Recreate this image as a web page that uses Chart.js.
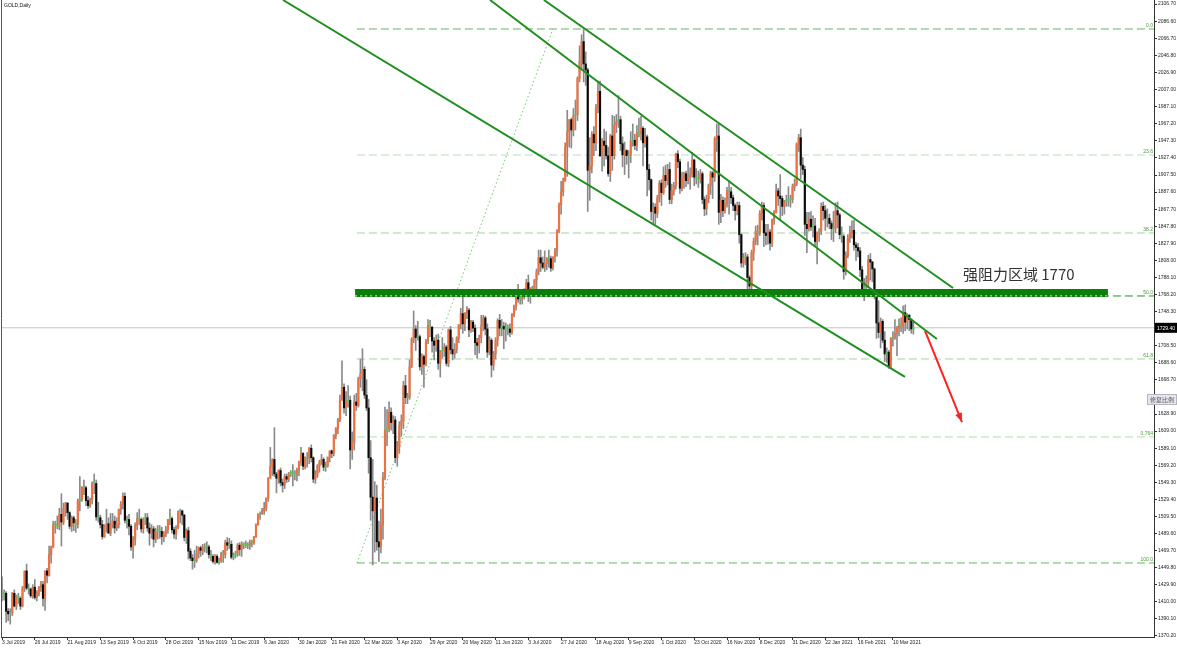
<!DOCTYPE html>
<html><head><meta charset="utf-8">
<script src="https://cdn.jsdelivr.net/npm/chart.js@4.4.1/dist/chart.umd.min.js"></script>
<style>html,body{margin:0;padding:0;background:#fff;overflow:hidden}</style>
</head><body>
<canvas id="c" width="1177" height="648"></canvas>
<script>
// ---- GOLD Daily, 3 Jul 2019 .. 24 Mar 2021 ----
const opens=[
1419,1419,1420,1399,1396,1397,1420,1405,1416,1414,
1405,1426,1446,1426,1425,1417,1427,1415,1420,1427,
1430,1414,1446,1441,1465,1474,1500,1500,1498,1512,
1503,1518,1525,1514,1498,1508,1502,1500,1528,1529,
1544,1543,1528,1522,1529,1548,1548,1509,1508,1500,
1486,1498,1501,1490,1500,1504,1496,1500,1518,1524,
1533,1505,1506,1498,1474,1482,1499,1507,1506,1495,
1506,1508,1496,1490,1495,1483,1492,1494,1492,1486,
1489,1494,1506,1507,1494,1489,1497,1515,1516,1511,
1485,1493,1469,1461,1458,1458,1466,1473,1470,1474,
1473,1474,1465,1463,1457,1463,1456,1458,1466,1465,
1479,1476,1477,1462,1464,1466,1476,1471,1477,1478,
1476,1476,1480,1479,1486,1500,1512,1513,1516,1519,
1531,1554,1568,1576,1559,1554,1563,1549,1546,1556,
1553,1559,1561,1560,1558,1564,1573,1583,1568,1577,
1577,1589,1578,1553,1558,1568,1573,1576,1567,1568,
1578,1586,1583,1604,1612,1622,1645,1660,1636,1644,
1645,1587,1596,1643,1639,1670,1676,1681,1651,1636,
1578,1532,1516,1531,1480,1474,1500,1555,1610,1612,
1631,1619,1622,1578,1591,1615,1621,1662,1648,1648,
1684,1716,1728,1718,1719,1684,1696,1687,1714,1732,
1730,1714,1709,1715,1688,1702,1703,1707,1688,1727,
1704,1699,1704,1717,1733,1746,1734,1747,1750,1727,
1736,1729,1712,1709,1718,1732,1741,1728,1701,1715,
1686,1699,1715,1738,1729,1731,1728,1728,1728,1724,
1745,1755,1768,1763,1763,1772,1773,1782,1771,1776,
1774,1785,1795,1811,1805,1800,1804,1811,1810,1799,
1812,1819,1843,1873,1888,1901,1941,1958,1972,1960,
1977,1978,2020,2040,2063,2037,2030,1913,1918,1955,
1945,1986,2005,1930,1947,1942,1930,1909,1953,1930,
1966,1970,1972,1944,1931,1936,1930,1931,1947,1948,
1942,1957,1955,1962,1945,1952,1914,1902,1865,1870,
1863,1881,1898,1887,1907,1901,1914,1879,1889,1895,
1932,1923,1892,1904,1909,1901,1905,1908,1925,1905,
1903,1903,1909,1879,1868,1880,1895,1910,1905,1950,
1953,1864,1878,1866,1874,1889,1888,1881,1872,1866,
1872,1838,1805,1811,1812,1788,1778,1817,1830,1842,
1840,1863,1872,1840,1837,1841,1828,1855,1864,1889,
1883,1880,1871,1876,1878,1879,1879,1894,1897,1943,
1951,1919,1914,1850,1845,1856,1847,1848,1830,1841,
1842,1871,1866,1857,1857,1851,1845,1845,1866,1861,
1838,1836,1795,1814,1834,1840,1843,1826,1823,1819,
1797,1775,1777,1783,1809,1806,1798,1770,1735,1724,
1737,1715,1699,1701,1684,1717,1718,1723,1729,1732,
1731,1747,1736,1744,1739,1728];
const highs=[
1439,1424,1422,1402,1402,1421,1424,1418,1420,1416,
1428,1446,1454,1431,1426,1430,1436,1423,1428,1434,
1434,1446,1449,1475,1475,1504,1504,1510,1519,1536,
1525,1526,1526,1515,1510,1510,1506,1530,1556,1544,
1552,1545,1533,1531,1550,1559,1552,1526,1511,1505,
1500,1518,1508,1513,1513,1510,1508,1518,1527,1537,
1537,1510,1512,1500,1486,1502,1514,1518,1508,1508,
1513,1513,1502,1500,1498,1496,1499,1499,1497,1492,
1498,1506,1518,1509,1497,1499,1516,1518,1517,1512,
1495,1497,1472,1465,1470,1475,1474,1475,1477,1478,
1480,1476,1470,1465,1465,1465,1461,1468,1470,1482,
1485,1484,1481,1467,1469,1478,1479,1480,1479,1481,
1479,1482,1482,1486,1501,1513,1515,1519,1526,1531,
1555,1590,1577,1613,1561,1564,1566,1553,1559,1559,
1561,1563,1570,1563,1566,1574,1590,1584,1579,1584,
1590,1593,1579,1563,1570,1575,1582,1578,1573,1579,
1586,1587,1605,1613,1624,1651,1691,1664,1655,1662,
1650,1608,1651,1653,1672,1693,1705,1684,1669,1646,
1598,1576,1550,1546,1504,1518,1561,1637,1634,1643,
1636,1627,1626,1597,1620,1628,1667,1674,1653,1692,
1718,1749,1732,1737,1721,1699,1698,1716,1739,1738,
1731,1718,1721,1722,1703,1718,1711,1709,1728,1731,
1718,1711,1719,1733,1752,1767,1747,1754,1752,1738,
1738,1733,1717,1721,1744,1744,1743,1734,1719,1717,
1702,1718,1740,1745,1739,1736,1735,1733,1734,1746,
1756,1768,1780,1768,1774,1775,1786,1791,1776,1778,
1786,1798,1820,1820,1812,1819,1811,1820,1813,1812,
1822,1844,1875,1900,1904,1945,1983,1972,1974,1985,
1995,2022,2058,2071,2077,2051,2032,1951,1958,1964,
1990,2017,2017,1950,1961,1958,1940,1955,1977,1976,
1978,2000,1976,1952,1946,1937,1936,1958,1967,1955,
1965,1974,1976,1964,1962,1954,1920,1903,1875,1874,
1884,1901,1902,1917,1919,1920,1922,1897,1899,1933,
1936,1926,1911,1911,1912,1923,1916,1934,1926,1915,
1912,1914,1911,1882,1884,1897,1912,1912,1952,1967,
1967,1885,1882,1881,1893,1901,1893,1884,1874,1876,
1876,1839,1816,1817,1815,1790,1820,1834,1848,1849,
1866,1876,1875,1850,1850,1844,1856,1866,1897,1892,
1908,1883,1878,1884,1894,1884,1897,1903,1945,1955,
1961,1928,1918,1864,1864,1865,1860,1857,1840,1845,
1875,1876,1872,1868,1862,1854,1865,1875,1876,1863,
1847,1838,1818,1838,1848,1854,1855,1829,1828,1823,
1801,1787,1790,1814,1816,1807,1799,1771,1761,1741,
1739,1725,1706,1703,1718,1725,1739,1731,1740,1741,
1755,1756,1746,1745,1740,1738];
const lows=[
1411,1412,1386,1388,1384,1394,1404,1401,1408,1401,
1404,1422,1424,1419,1415,1414,1413,1411,1417,1422,
1405,1400,1432,1440,1455,1473,1490,1495,1494,1475,
1500,1510,1506,1495,1492,1493,1491,1496,1516,1527,
1535,1522,1519,1520,1524,1536,1505,1503,1496,1483,
1485,1491,1490,1487,1496,1490,1493,1496,1512,1518,
1502,1496,1488,1470,1461,1476,1494,1500,1491,1490,
1500,1492,1476,1484,1474,1479,1483,1484,1477,1480,
1486,1490,1500,1490,1484,1483,1495,1502,1500,1481,
1478,1460,1458,1448,1450,1456,1461,1463,1465,1468,
1467,1461,1458,1455,1454,1455,1454,1456,1456,1461,
1470,1472,1460,1459,1461,1463,1464,1463,1472,1473,
1472,1471,1474,1477,1485,1499,1506,1512,1512,1516,
1527,1554,1557,1556,1537,1548,1545,1538,1542,1549,
1550,1556,1545,1552,1551,1557,1569,1564,1565,1567,
1571,1573,1549,1548,1555,1561,1570,1563,1562,1567,
1573,1578,1580,1600,1606,1620,1645,1630,1627,1637,
1565,1576,1587,1633,1637,1660,1656,1647,1633,1560,
1505,1453,1468,1470,1457,1467,1483,1552,1592,1608,
1610,1606,1572,1568,1583,1603,1612,1641,1641,1646,
1683,1712,1703,1715,1680,1675,1660,1685,1711,1719,
1701,1692,1702,1681,1672,1694,1696,1685,1684,1699,
1692,1694,1700,1712,1728,1723,1726,1740,1719,1724,
1725,1698,1694,1700,1712,1726,1721,1695,1698,1672,
1680,1693,1708,1720,1720,1705,1714,1721,1719,1722,
1742,1750,1759,1757,1757,1763,1767,1760,1758,1768,
1767,1775,1791,1795,1798,1795,1797,1800,1795,1797,
1806,1813,1840,1862,1883,1900,1906,1940,1939,1953,
1960,1971,2016,2031,2016,2012,1865,1878,1910,1930,
1936,1980,1929,1912,1918,1926,1906,1900,1913,1926,
1957,1963,1936,1917,1908,1920,1904,1922,1941,1937,
1936,1952,1948,1918,1940,1883,1890,1855,1850,1850,
1858,1876,1872,1885,1893,1896,1874,1874,1884,1891,
1916,1886,1889,1892,1894,1897,1891,1905,1895,1897,
1893,1898,1874,1860,1861,1875,1885,1880,1900,1935,
1850,1852,1859,1863,1870,1862,1874,1866,1855,1861,
1828,1800,1800,1803,1775,1768,1775,1808,1826,1826,
1837,1855,1824,1826,1827,1820,1824,1850,1863,1872,
1855,1860,1862,1871,1871,1870,1875,1889,1895,1935,
1903,1908,1837,1817,1842,1843,1835,1825,1804,1830,
1838,1855,1843,1847,1845,1832,1830,1840,1846,1833,
1829,1786,1791,1811,1829,1834,1820,1808,1812,1789,
1768,1761,1770,1776,1785,1783,1763,1717,1718,1706,
1712,1690,1689,1682,1683,1708,1716,1697,1720,1725,
1723,1726,1728,1726,1723,1722];
const closes=[
1419,1420,1399,1396,1397,1420,1405,1416,1414,1405,
1426,1446,1426,1425,1417,1427,1415,1420,1427,1430,
1414,1446,1441,1465,1474,1500,1500,1498,1512,1503,
1518,1525,1514,1498,1508,1502,1500,1528,1529,1544,
1543,1528,1522,1529,1548,1548,1509,1508,1500,1486,
1498,1501,1490,1500,1504,1496,1500,1518,1524,1533,
1505,1506,1498,1474,1482,1499,1507,1506,1495,1506,
1508,1496,1490,1495,1483,1492,1494,1492,1486,1489,
1494,1506,1507,1494,1489,1497,1515,1516,1511,1485,
1493,1469,1461,1458,1458,1466,1473,1470,1474,1473,
1474,1465,1463,1457,1463,1456,1458,1466,1465,1479,
1476,1477,1462,1464,1466,1476,1471,1477,1478,1476,
1476,1480,1479,1486,1500,1512,1513,1516,1519,1531,
1554,1568,1576,1559,1554,1563,1549,1546,1556,1553,
1559,1561,1560,1558,1564,1573,1583,1568,1577,1577,
1589,1578,1553,1558,1568,1573,1576,1567,1568,1578,
1586,1583,1604,1612,1622,1645,1660,1636,1644,1645,
1587,1596,1643,1639,1670,1676,1681,1651,1636,1578,
1532,1516,1531,1480,1474,1500,1555,1610,1612,1631,
1619,1622,1578,1591,1615,1621,1662,1648,1648,1684,
1716,1728,1718,1719,1684,1696,1687,1714,1732,1730,
1714,1709,1715,1688,1702,1703,1707,1688,1727,1704,
1699,1704,1717,1733,1746,1734,1747,1750,1727,1736,
1729,1712,1709,1718,1732,1741,1728,1701,1715,1686,
1699,1715,1738,1729,1731,1728,1728,1728,1724,1745,
1755,1768,1763,1763,1772,1773,1782,1771,1776,1774,
1785,1795,1811,1805,1800,1804,1811,1810,1799,1812,
1819,1843,1873,1888,1901,1941,1958,1972,1960,1977,
1978,2020,2040,2063,2037,2030,1913,1918,1955,1945,
1986,2005,1930,1947,1942,1930,1909,1953,1930,1966,
1970,1972,1944,1931,1936,1930,1931,1947,1948,1942,
1957,1955,1962,1945,1952,1914,1902,1865,1870,1863,
1881,1898,1887,1907,1901,1914,1879,1889,1895,1932,
1923,1892,1904,1909,1901,1905,1908,1925,1905,1903,
1903,1909,1879,1868,1880,1895,1910,1905,1950,1953,
1864,1878,1866,1874,1889,1888,1881,1872,1866,1872,
1838,1805,1811,1812,1788,1778,1817,1830,1842,1840,
1863,1872,1840,1837,1841,1828,1855,1864,1889,1883,
1880,1871,1876,1878,1879,1879,1894,1897,1943,1951,
1919,1914,1850,1845,1856,1847,1848,1830,1841,1842,
1871,1866,1857,1857,1851,1845,1845,1866,1861,1838,
1836,1795,1814,1834,1840,1843,1826,1823,1819,1797,
1775,1777,1783,1809,1806,1798,1770,1735,1724,1737,
1715,1699,1701,1684,1717,1718,1723,1729,1732,1731,
1747,1736,1744,1739,1728,1729.4];

// x-axis date labels and the bar index each one sits on
const dateLabels=['3 Jul 2019','26 Jul 2019','21 Aug 2019','13 Sep 2019','4 Oct 2019','28 Oct 2019','15 Nov 2019','11 Dec 2019','6 Jan 2020','30 Jan 2020','21 Feb 2020','12 Mar 2020','3 Apr 2020','29 Apr 2020','20 May 2020','11 Jun 2020','3 Jul 2020','27 Jul 2020','18 Aug 2020','9 Sep 2020','1 Oct 2020','23 Oct 2020','16 Nov 2020','8 Dec 2020','31 Dec 2020','22 Jan 2021','16 Feb 2021','10 Mar 2021'];
const dateIdx=[0,16,32,48,64,80,96,112,128,145,161,177,193,209,225,241,257,273,290,306,322,338,354,370,386,402,418,435];

// price-axis tick labels
const yTicks=[1370.20,1390.10,1410.00,1429.90,1449.80,1469.70,1489.60,1509.50,1529.40,1549.30,1569.20,1589.10,1609.00,1628.90,1648.80,1668.70,1688.60,1708.50,1728.40,1748.30,1768.20,1788.10,1808.00,1827.90,1847.80,1867.70,1887.60,1907.50,1927.40,1947.30,1967.20,1987.10,2007.00,2026.90,2046.80,2066.70,2086.60,2106.70];

// Fibonacci retracement (anchor low/high, level labels)
const fibLabels=['0.0','23.6','38.2','50.0','61.8','0.764','100.0'];
const fibRatios=[0,0.236,0.382,0.5,0.618,0.764,1];
const fibAnchor=[173.3,1455.3,269.0,2077.7]; // idx/price of low, idx/price of high

// drawn objects in chart coordinates (bar index, price)
const channelA=[137.2,2111.5,440.9,1672.1];
const channelB=[238.3,2111.5,456.5,1716.4];
const channelC=[264.6,2111.5,464.4,1775.8];
const zoneLine=[172.4,540.0,1770.0];
const zoneLabel='强阻力区域 1770';
const zoneLabelPos=[469.2,1792.1];
const arrowLine=[450.7,1725.7,468.75,1619.6];

const xMin=-0.5,xMax=562.5,yMin=1369.0,yMax=2111.5;
const N=closes.length;
const last=closes[N-1];

const wickData=lows.map((l,i)=>({x:i,y:[Math.min(l,opens[i],closes[i]),Math.max(highs[i],opens[i],closes[i])]}));
const bodyData=opens.map((o,i)=>({x:i,y:[Math.min(o,closes[i]),Math.max(o,closes[i])]}));
const bodyColors=opens.map((o,i)=>Math.abs(closes[i]-o)<=2?'#4fcf4f':(closes[i]>o?'#f0703f':'#0a0a0a'));

const seg=(a)=>[{x:a[0],y:a[1]},{x:a[2],y:a[3]}];
const lineDs=(data,color,width,dash,order)=>({type:'line',data,borderColor:color,borderWidth:width,borderDash:dash||[],pointRadius:0,pointHoverRadius:0,fill:false,tension:0,order,borderCapStyle:'butt'});

const fibHigh=fibAnchor[3],fibLow=fibAnchor[1];
const fibPrice=r=>fibHigh-r*(fibHigh-fibLow);
const fibColors=['#62b862','#b9ddb9','#a3d2a3','#1e961e','#a3d2a3','#b0dab0','#62b862'];

const datasets=[];
datasets.push(lineDs(seg([xMin,last,xMax,last]),'#c4c4c4',1,[],40));
fibRatios.forEach((r,k)=>datasets.push(lineDs(seg([fibAnchor[0],fibPrice(r),xMax,fibPrice(r)]),fibColors[k],1,[8,4],35)));
datasets.push(lineDs(seg(fibAnchor),'#6cc86c',1,[1.5,2.5],34));
datasets.push({type:'bar',data:wickData,backgroundColor:'#8a8a8a',barThickness:1,grouped:false,order:30,borderWidth:0});
datasets.push({type:'bar',data:bodyData,backgroundColor:bodyColors,barThickness:1.5,grouped:false,order:29,borderWidth:0,minBarLength:1});
datasets.push(lineDs(seg([zoneLine[0],zoneLine[2],zoneLine[1],zoneLine[2]]),'#0a7f0a',8,[],6));
datasets.push(lineDs(seg([zoneLine[0],zoneLine[2]-3.4,zoneLine[1],zoneLine[2]-3.4]),'rgba(255,255,255,0.9)',1,[2,3],5));
[channelA,channelB,channelC].forEach(c=>datasets.push(lineDs(seg(c),'#1f8f1f',2,[],4)));
datasets.push(lineDs(seg(arrowLine),'#ff2020',2,[],3));

const overlay={id:'overlay',afterDraw(chart){
  const {ctx,chartArea:a,scales:{x,y}}=chart;
  ctx.save();
  // left frame line
  ctx.strokeStyle='#555';ctx.lineWidth=1;
  ctx.beginPath();ctx.moveTo(1.5,0);ctx.lineTo(1.5,a.bottom);ctx.stroke();
  // title
  ctx.font='5px "Liberation Sans"';ctx.fillStyle='#111';ctx.textAlign='left';ctx.textBaseline='alphabetic';
  ctx.fillText('GOLD,Daily',4,7);
  // fib level labels
  ctx.textAlign='right';ctx.textBaseline='bottom';ctx.fillStyle='#4a9a35';
  fibRatios.forEach((r,k)=>{ctx.fillText(fibLabels[k],a.right-1,y.getPixelForValue(fibPrice(r))-0.5);});
  // zone label
  ctx.font='15px "Noto Sans CJK SC"';ctx.fillStyle='#333';ctx.textAlign='left';ctx.textBaseline='middle';
  ctx.fillText(zoneLabel,x.getPixelForValue(zoneLabelPos[0]),y.getPixelForValue(zoneLabelPos[1]));
  // arrow head
  const x1=x.getPixelForValue(arrowLine[0]),y1=y.getPixelForValue(arrowLine[1]);
  const x2=x.getPixelForValue(arrowLine[2]),y2=y.getPixelForValue(arrowLine[3]);
  const ang=Math.atan2(y2-y1,x2-x1),L=9,W=3.5;
  const bx=x2-L*Math.cos(ang),by=y2-L*Math.sin(ang);
  ctx.fillStyle='#ff2020';ctx.beginPath();ctx.moveTo(x2,y2);
  ctx.lineTo(bx-W*Math.sin(ang),by+W*Math.cos(ang));
  ctx.lineTo(bx+W*Math.sin(ang),by-W*Math.cos(ang));ctx.closePath();ctx.fill();
  // current price tag
  const py=y.getPixelForValue(last);
  ctx.fillStyle='#000';ctx.fillRect(a.right+1,py-5,1177-a.right-1,10);
  ctx.font='5px "Liberation Sans"';ctx.fillStyle='#fff';ctx.textAlign='left';ctx.textBaseline='middle';
  ctx.fillText(last.toFixed(2),a.right+3,py+0.5);
  // scale button
  ctx.fillStyle='#e6e6ee';ctx.fillRect(1147,394,30,11);
  ctx.strokeStyle='#b4b4c4';ctx.strokeRect(1147.5,394.5,29,10);
  ctx.font='6px "Noto Sans CJK SC"';ctx.fillStyle='#555';ctx.textAlign='center';
  ctx.fillText('修复比例',1162,400);
  ctx.restore();
}};

new Chart(document.getElementById('c'),{
  type:'bar',
  data:{datasets},
  options:{
    responsive:false,animation:false,events:[],
    layout:{padding:{left:1,right:0,top:0,bottom:0}},
    plugins:{legend:{display:false},tooltip:{enabled:false}},
    scales:{
      x:{type:'linear',min:xMin,max:xMax,offset:false,
        grid:{display:true,drawOnChartArea:false,drawTicks:true,tickLength:3,color:'#333',offset:false},
        border:{display:true,color:'#333',width:1},
        afterBuildTicks:s=>{s.ticks=dateIdx.map(v=>({value:v}));},
        afterFit:s=>{s.height=11;s.paddingLeft=0;s.paddingRight=0;},
        ticks:{autoSkip:false,maxRotation:0,minRotation:0,align:'start',padding:0,
          font:{size:5,family:'Liberation Sans'},color:'#222',
          callback:(v,i)=>dateLabels[i]}
      },
      y:{type:'linear',position:'right',min:yMin,max:yMax,
        grid:{drawOnChartArea:false,drawTicks:true,tickLength:3,color:'#333'},
        border:{display:true,color:'#333',width:1},
        afterBuildTicks:s=>{s.ticks=yTicks.map(v=>({value:v}));},
        afterFit:s=>{s.width=23;s.paddingTop=0;s.paddingBottom=0;},
        ticks:{autoSkip:false,padding:1,font:{size:5,family:'Liberation Sans'},color:'#222',
          callback:v=>Number(v).toFixed(2)}
      }
    }
  },
  plugins:[overlay]
});
</script>
</body></html>
